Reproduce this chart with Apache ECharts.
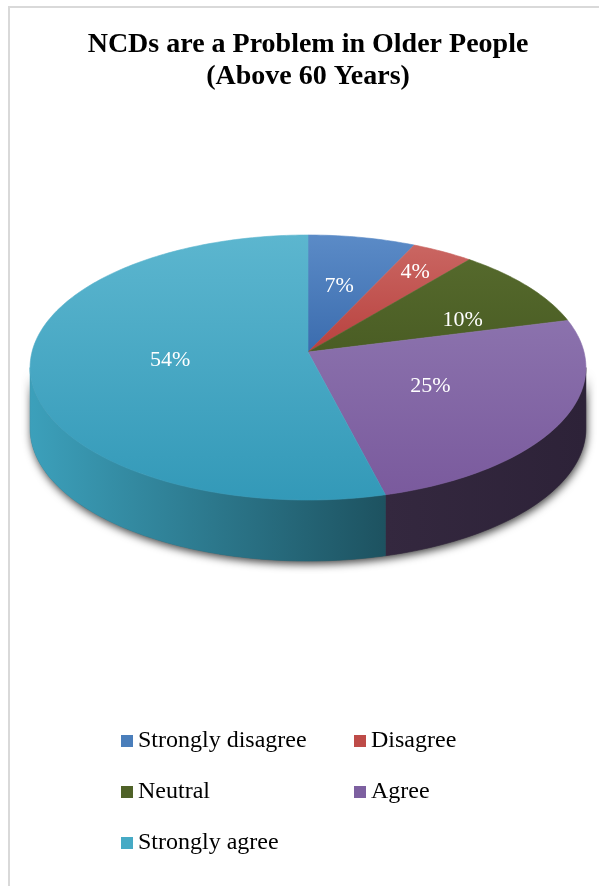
<!DOCTYPE html>
<html><head><meta charset="utf-8">
<script src="https://cdn.jsdelivr.net/npm/echarts@6/dist/echarts.min.js"></script>
<style>html,body{margin:0;padding:0;background:#fff}#c{width:599px;height:886px}</style>
</head><body><div id="c"></div>
<script>
// ---- data ----
const categories = ['Strongly disagree', 'Disagree', 'Neutral', 'Agree', 'Strongly agree'];
const values = [7, 4, 10, 25, 54];
const labelTexts = ['7%', '4%', '10%', '25%', '54%'];
const titleLines = ['NCDs are a Problem in Older People', '(Above 60 Years)'];

// ---- styles ----
const topColors = [['#5b8bc7', '#3b6cae'], ['#ca6662', '#b8413e'], ['#55692c', '#4a5d24'], ['#8b72ad', '#7a5a9d'], ['#5cb6cf', '#3399b8']];
const sideColors = [['#2c4a70', '#223a58'], ['#7a2a28', '#5e201e'], ['#33401a', '#2a3514'], ['#34283f', '#2d2238'], ['#3ca0bb', '#1d5260']];
const legendColors = ['#4a7ebb', '#be4b48', '#4f6228', '#7d60a0', '#46aac5'];
const labelPlace = [{r: 0.55, shift: 0}, {r: 0.78, shift: 0}, {r: 0.63, shift: 8.8}, {r: 0.5, shift: 0}, {r: 0.5, shift: 0}];
const G = {cx: 308, cy: 352, W: 276, B: 130.7, k: 0.117, depth: 61};
const SERIF = '"Liberation Serif", "Times New Roman", serif';

const total = values.reduce((a, b) => a + b, 0);
const silL = Math.acos(-G.k) * 180 / Math.PI;
const silR = 360 - silL;

function proj(deg, r, dy) {
  const t = deg * Math.PI / 180;
  const u = r * Math.sin(t), v = r * Math.cos(t);
  const d = 1 + G.k * v;
  return [G.cx + G.W * u / d, G.cy - G.B * v / d + dy];
}
function arc(a, b, r, dy) {
  const n = Math.max(2, Math.ceil(b - a));
  const pts = [];
  for (let j = 0; j <= n; j++) pts.push(proj(a + (b - a) * j / n, r, dy));
  return pts;
}
function lin(c, horiz) {
  return {type: 'linear', x: 0, y: 0, x2: horiz ? 1 : 0, y2: horiz ? 0 : 1,
    colorStops: [{offset: 0, color: c[0]}, {offset: 1, color: c[1]}]};
}

function makeRender(i) {
  return function (params, api) {
    const val = api.value(0);
    let before = 0;
    for (let j = 0; j < i; j++) before += values[j];
    const a = before / total * 360;
    const b = (before + val) / total * 360;
    const children = [];
    const s = Math.max(a, silL), e = Math.min(b, silR);
    if (s < e) {
      const pts = arc(s, e, 1, 0).concat(arc(s, e, 1, G.depth).reverse());
      children.push({type: 'polygon', z2: 1, shape: {points: pts},
        style: {fill: lin(sideColors[i], true), stroke: lin(sideColors[i], true), lineWidth: 0.6}});
    }
    const topPts = [proj(0, 0, 0)].concat(arc(a, b, 1, 0));
    children.push({type: 'polygon', z2: 2, shape: {points: topPts},
      style: {fill: lin(topColors[i], false), stroke: lin(topColors[i], false), lineWidth: 0.6}});
    const lp = labelPlace[i];
    const p = proj((a + b) / 2 + lp.shift, lp.r, 0);
    children.push({type: 'text', z2: 5, x: p[0], y: p[1],
      style: {text: labelTexts[i], fill: '#fff', font: '22px ' + SERIF, align: 'center', verticalAlign: 'middle'}});
    return {type: 'group', children: children};
  };
}

function renderShadow() {
  const pts = arc(silL, silR, 1, 0).concat(arc(silL, silR, 1, G.depth).reverse());
  return {type: 'polygon', z2: 0, shape: {points: pts},
    style: {fill: '#555', shadowBlur: 8, shadowColor: 'rgba(0,0,0,0.75)', shadowOffsetX: 1, shadowOffsetY: 3}};
}

const series = [{type: 'custom', coordinateSystem: 'none', silent: true, data: [[0]], renderItem: renderShadow}];
categories.forEach((name, i) => {
  series.push({
    type: 'custom', name: name, coordinateSystem: 'none',
    itemStyle: {color: legendColors[i]},
    data: [{value: values[i], name: name}],
    renderItem: makeRender(i)
  });
});

const legendBase = {
  orient: 'vertical', top: 729, padding: 0, icon: 'rect', itemWidth: 12, itemHeight: 12, itemGap: 27,
  selectedMode: false,
  textStyle: {fontFamily: SERIF, fontSize: 24, color: '#000', lineHeight: 24}
};

const chart = echarts.init(document.getElementById('c'), null, {renderer: 'canvas'});
chart.setOption({
  backgroundColor: '#fff',
  animation: false,
  legend: [
    Object.assign({}, legendBase, {left: 121, data: [categories[0], categories[2], categories[4]]}),
    Object.assign({}, legendBase, {left: 354, data: [categories[1], categories[3]]})
  ],
  graphic: [
    {type: 'polyline', shape: {points: [[9, 886], [9, 7], [599, 7]]}, style: {stroke: '#d9d9d9', lineWidth: 2, fill: null}},
    {type: 'text', x: 308, y: 45, style: {text: titleLines[0], font: 'bold 28px ' + SERIF, fill: '#000', align: 'center', verticalAlign: 'middle'}},
    {type: 'text', x: 308, y: 77, style: {text: titleLines[1], font: 'bold 28px ' + SERIF, fill: '#000', align: 'center', verticalAlign: 'middle'}}
  ],
  series: series
});
</script></body></html>
